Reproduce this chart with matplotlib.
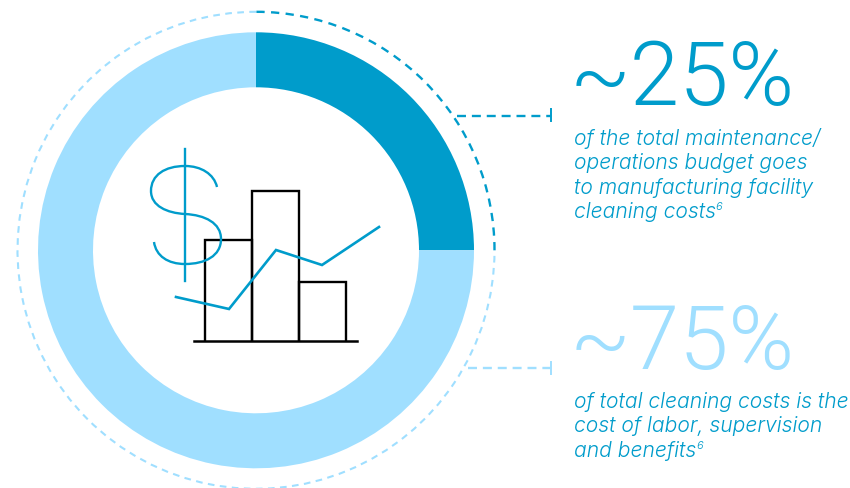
import matplotlib
matplotlib.use('Agg')
import matplotlib.pyplot as plt
from matplotlib.patches import Arc, PathPatch
from matplotlib.path import Path

W, H = 850, 489
DARK = '#009ccb'
LIGHT = '#a0dfff'
BLACK = '#000000'

# donut values
shares = [25, 75]
share_colors = [DARK, LIGHT]

# icon: bars and trend line, in picture pixels
bar_lefts = [205.5, 252.5, 299]
bar_tops = [241, 192, 283]
bar_width = 47
trend_x = [176, 229, 276, 322, 379]
trend_y = [298, 310, 251, 266, 228]

big_labels = ['~25%', '~75%']
text_25 = ['of the total maintenance/', 'operations budget goes', 'to manufacturing facility', 'cleaning costs']
text_75 = ['of total cleaning costs is the', 'cost of labor, supervision', 'and benefits']


def fy(y):
	return H - y


fig = plt.figure(figsize=(8.5, 4.89), dpi=100)
ax = fig.add_axes([0, 0, 1, 1])

cx, cy = 256, fy(251.3)
ax.pie(shares, colors=share_colors, startangle=90, counterclock=False, center=(cx, cy), radius=218,
	wedgeprops=dict(width=55, linewidth=0), frame=False)

# dashed outer ring
ax.add_patch(Arc((cx, cy), 477, 477, theta1=0, theta2=90, color=DARK, lw=1.7, linestyle=(0, (3.5, 2.7))))
ax.add_patch(Arc((cx, cy), 477, 477, theta1=90, theta2=360, color=LIGHT, lw=1.5, linestyle=(0, (3.2, 2.6))))

# connectors
ax.plot([457, 551], [fy(116.5), fy(116.5)], color=DARK, lw=1.7, linestyle=(0, (3.8, 2.5)))
ax.plot([551, 551], [fy(110), fy(122)], color=DARK, lw=1.4)
ax.plot([468, 551], [fy(369), fy(369)], color=LIGHT, lw=1.7, linestyle=(0, (3.8, 2.5)))
ax.plot([551, 551], [fy(363), fy(375)], color=LIGHT, lw=1.4)

# bar icon
for left, top in zip(bar_lefts, bar_tops):
	ax.plot([left, left, left + bar_width, left + bar_width], [fy(341), fy(top), fy(top), fy(341)],
		color=BLACK, lw=1.7, solid_joinstyle='miter', zorder=3)
ax.plot([194, 357], [fy(341.5), fy(341.5)], color=BLACK, lw=1.8, zorder=3)
ax.plot(trend_x, [fy(v) for v in trend_y], color=DARK, lw=1.9, solid_joinstyle='miter', zorder=4)

# dollar sign
s_pts = [(217, 188), (214, 175), (201, 167), (185, 167), (165, 167), (151, 176), (151, 192), (151, 207), (167, 214),
	(185, 215), (205, 216), (221, 224), (221, 240), (221, 257), (205, 265), (185, 265), (168, 265), (156, 257), (154, 243)]
codes = [Path.MOVETO] + [Path.CURVE4] * (len(s_pts) - 1)
ax.add_patch(PathPatch(Path([(x, fy(y)) for x, y in s_pts], codes), fill=False, edgecolor=DARK, lw=1.7, zorder=4))
ax.plot([185, 185], [fy(150), fy(282)], color=DARK, lw=1.7, zorder=4)

# text blocks
ax.text(570, fy(105), big_labels[0], color=DARK, family='Roboto', fontsize=64, fontweight=300, ha='left', va='baseline')
ax.text(570, fy(369), big_labels[1], color=LIGHT, family='Roboto', fontsize=64, fontweight=300, ha='left', va='baseline')

for i, line in enumerate(text_25):
	t = ax.text(574, fy(145 + 24.3 * i), line, color=DARK, family='Inter', fontsize=15.2, style='italic', fontweight=300, va='baseline')
ax.annotate('6', xy=(1, 1), xycoords=t, color=DARK, family='Inter', fontsize=8, style='italic', fontweight=300, va='top', ha='left')

for i, line in enumerate(text_75):
	t = ax.text(574, fy(408 + 24.3 * i), line, color=DARK, family='Inter', fontsize=15.2, style='italic', fontweight=300, va='baseline')
ax.annotate('6', xy=(1, 1), xycoords=t, color=DARK, family='Inter', fontsize=8, style='italic', fontweight=300, va='top', ha='left')

ax.set_xlim(0, W)
ax.set_ylim(0, H)
ax.set_aspect('auto')
ax.axis('off')

fig.savefig('out.png', dpi=100)
